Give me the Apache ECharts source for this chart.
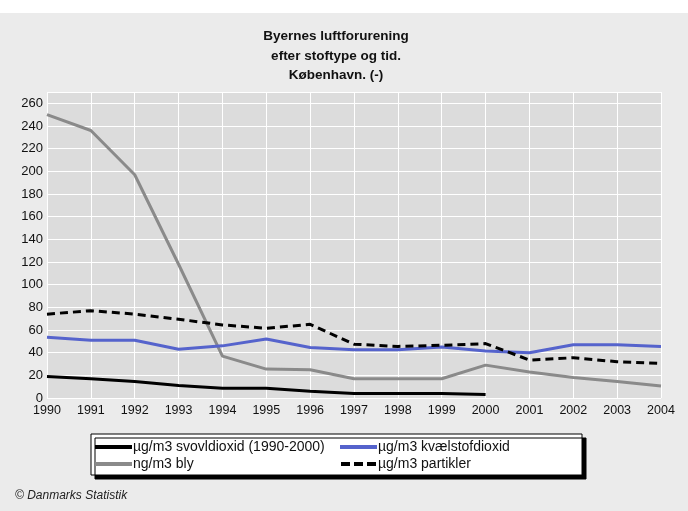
<!DOCTYPE html>
<html><head><meta charset="utf-8">
<script src="https://cdn.jsdelivr.net/npm/echarts@6/dist/echarts.min.js"></script>
<style>html,body{margin:0;padding:0;background:#fff}#c{width:688px;height:511px}</style>
</head><body><div id="c"></div>
<script>
const years = ['1990','1991','1992','1993','1994','1995','1996','1997','1998','1999','2000','2001','2002','2003','2004'];
const svovldioxid = [19, 17, 14.5, 11, 8.5, 8.5, 6, 4, 4, 4, 3, null, null, null, null];
const kvaelstofdioxid = [53.5, 51, 51, 43, 46, 52, 44.5, 42.5, 42.5, 45, 41.5, 40, 47, 47, 45.5];
const bly = [250, 236, 197, 118, 37, 25.5, 25, 17, 17, 17, 29, 23, 18, 14.5, 10.5];
const partikler = [74, 77, 74, 69.5, 64.5, 61.5, 65, 47.5, 45.5, 46.5, 48, 33.5, 35.5, 32, 30.5];
const names = ['µg/m3 svovldioxid (1990-2000)', 'µg/m3 kvælstofdioxid', 'ng/m3 bly', 'µg/m3 partikler'];
const titleText = 'Byernes luftforurening\nefter stoftype og tid.\nKøbenhavn. (-)';
const footer = '© Danmarks Statistik';

const FONT = '"Liberation Sans",Arial,sans-serif';
const chart = echarts.init(document.getElementById('c'));
const dashIcon = 'path://M0,0h9v4h-9z M13,0h9v4h-9z M26,0h9v4h-9z';
chart.setOption({
  backgroundColor: '#ffffff',
  animation: false,
  textStyle: {fontFamily: FONT},
  graphic: [
    {type: 'rect', shape: {x: 0, y: 13, width: 688, height: 498}, style: {fill: '#ebebeb'}, z: -10, silent: true},
    {type: 'rect', shape: {x: 91, y: 434, width: 491, height: 41}, style: {fill: '#ffffff', stroke: '#000', lineWidth: 1, shadowColor: '#000', shadowOffsetX: 4, shadowOffsetY: 4, shadowBlur: 0}, z: 1, silent: true},
    {type: 'text', left: 15, top: 490, style: {text: footer, font: 'italic 12px ' + FONT, fill: '#222'}, z: 5}
  ],
  title: {
    text: titleText, left: 331, textAlign: 'center', top: 22,
    textStyle: {fontFamily: FONT, fontWeight: 'bold', fontSize: 13.5, lineHeight: 19.5, color: '#111'}
  },
  legend: [
    {orient: 'vertical', left: 90, top: 435, itemGap: 3, itemWidth: 37, itemHeight: 4, z: 5,
     textStyle: {fontSize: 14, color: '#111', padding: [0, 0, 0, -4]},
     data: [{name: names[0], icon: 'rect'}, {name: names[2], icon: 'rect'}]},
    {orient: 'vertical', left: 335, top: 435, itemGap: 3, itemWidth: 37, itemHeight: 4, z: 5,
     textStyle: {fontSize: 14, color: '#111', padding: [0, 0, 0, -4]},
     data: [{name: names[1], icon: 'rect'}, {name: names[3], icon: dashIcon}]}
  ],
  grid: {left: 47, right: 27, top: 92, bottom: 113, show: true, backgroundColor: '#dcdcdc', borderWidth: 0, containLabel: false},
  xAxis: {
    type: 'category', data: years, boundaryGap: false,
    axisLine: {show: false}, axisTick: {show: false},
    axisLabel: {color: '#111', fontSize: 12.5, margin: 6, fontFamily: FONT},
    splitLine: {show: true, lineStyle: {color: '#ffffff', width: 1}}
  },
  yAxis: {
    type: 'value', min: 0, max: 270, interval: 20,
    axisLine: {show: false}, axisTick: {show: false},
    axisLabel: {color: '#111', fontSize: 13, margin: 4, showMaxLabel: false, fontFamily: FONT},
    splitLine: {show: true, lineStyle: {color: '#ffffff', width: 1}}
  },
  series: [
    {name: names[0], type: 'line', data: svovldioxid, showSymbol: false, symbol: 'none', color: '#000000', lineStyle: {width: 3, color: '#000000'}, z: 4},
    {name: names[1], type: 'line', data: kvaelstofdioxid, showSymbol: false, symbol: 'none', color: '#5563cc', lineStyle: {width: 3, color: '#5563cc'}, z: 3},
    {name: names[2], type: 'line', data: bly, showSymbol: false, symbol: 'none', color: '#8a8a8a', lineStyle: {width: 3, color: '#8a8a8a'}, z: 2},
    {name: names[3], type: 'line', data: partikler, showSymbol: false, symbol: 'none', color: '#000000', lineStyle: {width: 3, color: '#000000', type: [8, 5]}, z: 5}
  ]
});
</script></body></html>
